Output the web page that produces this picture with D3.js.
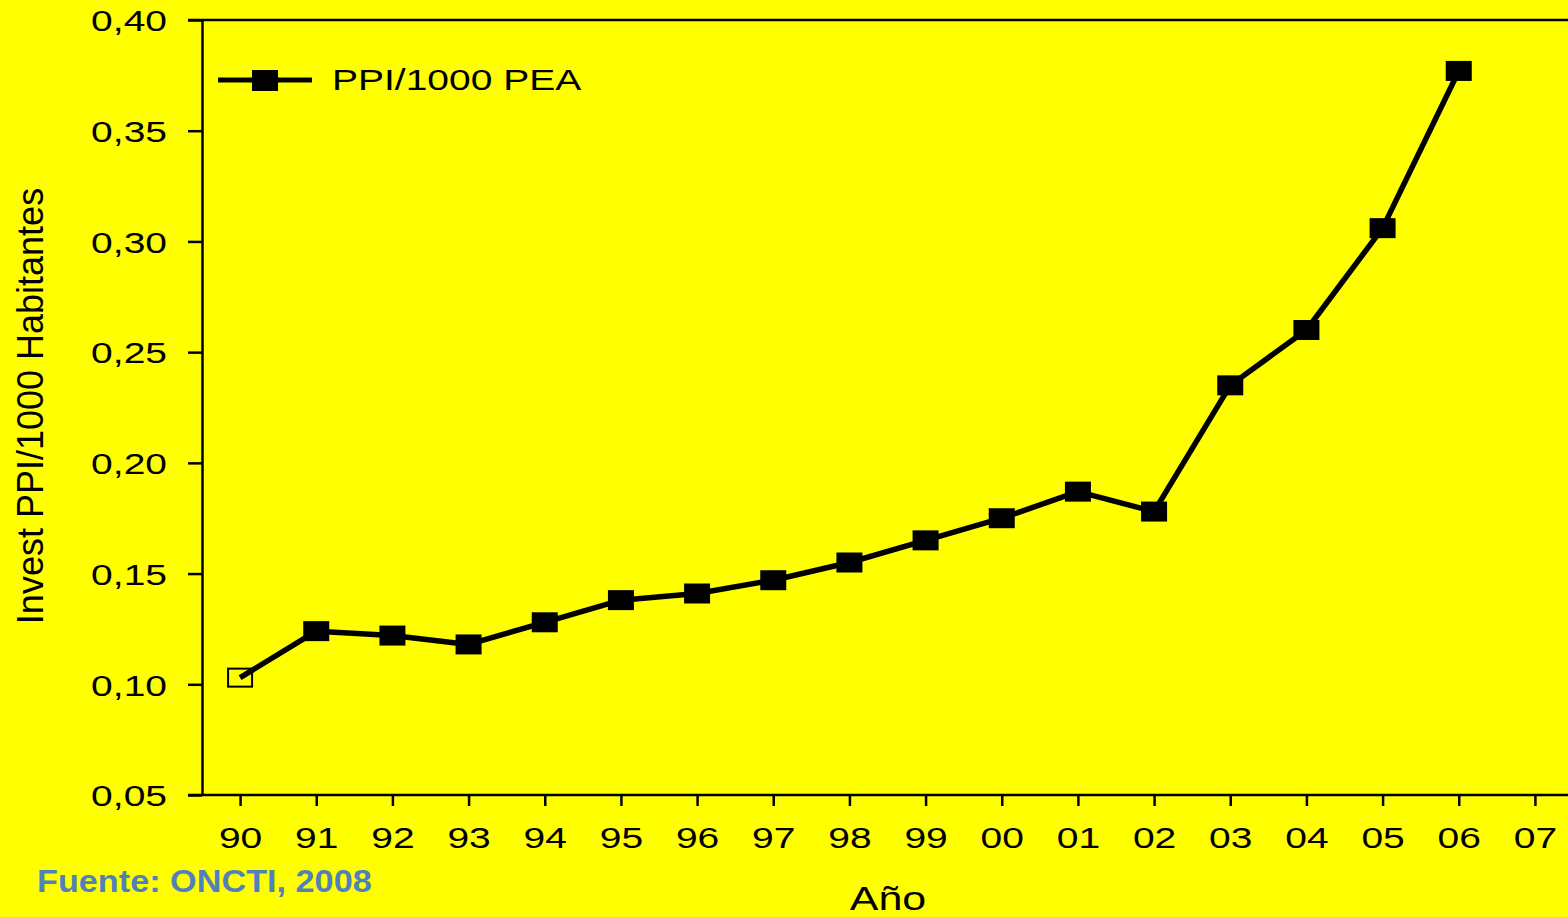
<!DOCTYPE html>
<html>
<head>
<meta charset="utf-8">
<script src="https://cdn.jsdelivr.net/npm/d3@7"></script>
<style>
  html, body { margin: 0; padding: 0; background: #ffff00; overflow: hidden; }
  text { font-family: "Liberation Sans", Arial, sans-serif; fill: #000; }
</style>
</head>
<body>
<div class="chart"></div>
<script>
// datos
const years = ['90','91','92','93','94','95','96','97','98','99','00','01','02','03','04','05','06','07']
const ppi = [0.103, 0.124, 0.122, 0.118, 0.128, 0.138, 0.141, 0.147, 0.155, 0.165, 0.175, 0.187, 0.178, 0.235, 0.260, 0.306, 0.377]
const yTicks = [0.05, 0.10, 0.15, 0.20, 0.25, 0.30, 0.35, 0.40]
const seriesName = 'PPI/1000 PEA'
const yTitle = 'Invest PPI/1000 Habitantes'
const xTitle = 'Año'
const source = 'Fuente: ONCTI, 2008'

const W = 1568, H = 917
const sx = 1.3 // el texto original sale estirado en horizontal
const margin = {top: 20, left: 202, bottom: 122}
const plotRight = 1573

const svg = d3.select('.chart')
  .append('svg')
    .attr('width', W)
    .attr('height', H)
    .style('display', 'block')

svg.append('rect').attr('width', W).attr('height', H).attr('fill', '#ffff00')

const x = d3.scalePoint()
  .domain(years)
  .range([margin.left, plotRight])
  .padding(0.5)

const y = d3.scaleLinear()
  .domain([0.05, 0.40])
  .range([H - margin.bottom, margin.top])

const fmt = v => d3.format('.2f')(v).replace('.', ',')

// eje y
const yAxis = svg.append('g')
  .attr('transform', `translate(${margin.left},0)`)
  .call(d3.axisLeft(y).tickValues(yTicks).tickFormat(fmt).tickSize(14).tickSizeOuter(0))
yAxis.select('.domain').attr('stroke-width', 2.5)
yAxis.selectAll('.tick line').attr('stroke-width', 2.5)
yAxis.selectAll('.tick text')
  .attr('x', -35 / sx)
  .attr('dy', '0.36em')
  .attr('transform', `scale(${sx},1)`)
  .style('font-size', '30px')
  .style('font-family', '"Liberation Sans", Arial, sans-serif')
  .attr('fill', '#000')

// eje x
const xAxis = svg.append('g')
  .attr('transform', `translate(0,${y(0.05)})`)
  .call(d3.axisBottom(x).tickSize(11).tickSizeOuter(0))
xAxis.select('.domain').attr('stroke-width', 2.5)
  .attr('d', `M${margin.left - 14},0H${plotRight}`)
xAxis.selectAll('.tick line').attr('stroke-width', 2.5)
xAxis.selectAll('.tick text')
  .attr('y', 53)
  .attr('dy', 0)
  .attr('transform', `scale(${sx},1)`)
  .style('font-size', '30px')
  .style('font-family', '"Liberation Sans", Arial, sans-serif')
  .attr('fill', '#000')

// linea superior del marco
svg.append('line')
  .attr('x1', margin.left - 14).attr('x2', W)
  .attr('y1', y(0.40)).attr('y2', y(0.40))
  .attr('stroke', '#000').attr('stroke-width', 2.5)

// serie
const pts = ppi.map((v, i) => ({year: years[i], v}))

svg.append('path')
  .datum(pts)
  .attr('fill', 'none')
  .attr('stroke', '#000')
  .attr('stroke-width', 5.5)
  .attr('stroke-linejoin', 'round')
  .attr('d', d3.line().x(d => x(d.year)).y(d => y(d.v)))

svg.selectAll('.mark')
  .data(pts)
  .enter()
  .append('rect')
    .attr('class', 'mark')
    .attr('x', (d, i) => x(d.year) - (i === 0 ? 12 : 13))
    .attr('y', (d, i) => y(d.v) - (i === 0 ? 9 : 10))
    .attr('width', (d, i) => i === 0 ? 24 : 26)
    .attr('height', (d, i) => i === 0 ? 18 : 20)
    .attr('fill', (d, i) => i === 0 ? 'none' : '#000')
    .attr('stroke', '#000')
    .attr('stroke-width', (d, i) => i === 0 ? 2 : 0)

// leyenda
const leg = svg.append('g').attr('transform', 'translate(218,80)')
leg.append('line').attr('x1', 0).attr('x2', 94).attr('y1', 0).attr('y2', 0)
  .attr('stroke', '#000').attr('stroke-width', 5)
leg.append('rect').attr('x', 34).attr('y', -10).attr('width', 26).attr('height', 21).attr('fill', '#000')
leg.append('text')
  .attr('transform', `translate(114,10) scale(${sx},1)`)
  .style('font-size', '30px')
  .text(seriesName)

// titulos
svg.append('text')
  .attr('transform', 'translate(43,406) rotate(-90)')
  .attr('text-anchor', 'middle')
  .style('font-size', '36px')
  .text(yTitle)

svg.append('text')
  .attr('transform', `translate(888,910) scale(${sx},1)`)
  .attr('text-anchor', 'middle')
  .style('font-size', '33px')
  .text(xTitle)

svg.append('text')
  .attr('transform', 'translate(37,892) scale(1.07,1)')
  .style('font-size', '32px')
  .style('font-weight', 'bold')
  .style('fill', '#4f81bd')
  .text(source)
</script>
</body>
</html>
